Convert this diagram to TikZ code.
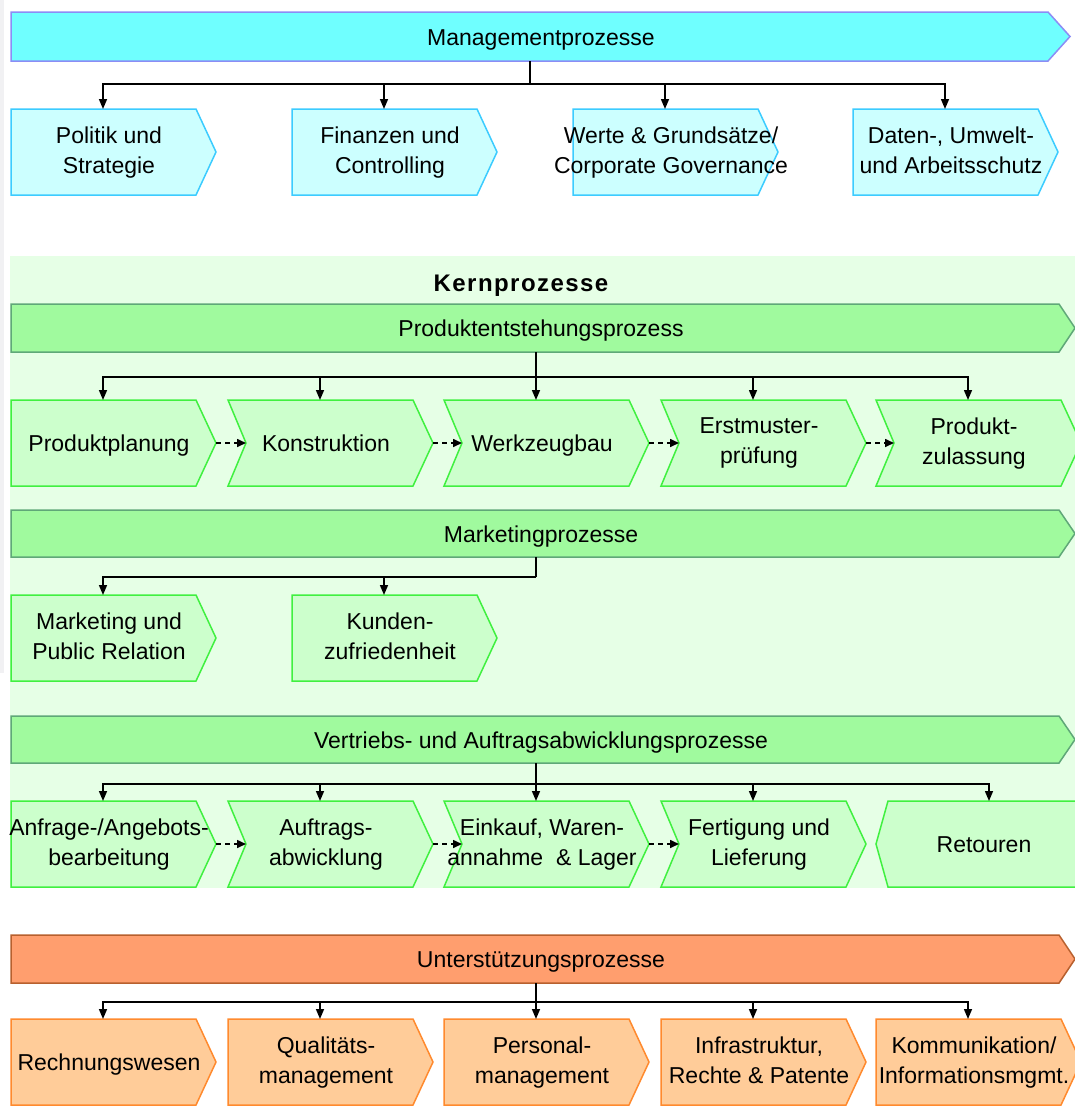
\documentclass[tikz,border=0pt]{standalone}
\usepackage{fontspec}
\setmainfont{Liberation Sans}
\usetikzlibrary{arrows.meta}
\definecolor{cyanbar}{HTML}{6FFFFF}
\definecolor{cyanbarline}{HTML}{8C8CF5}
\definecolor{cyanbox}{HTML}{CCFFFF}
\definecolor{cyanboxline}{HTML}{3CCCFF}
\definecolor{kernbg}{HTML}{E6FFE6}
\definecolor{greenbar}{HTML}{A0FA9E}
\definecolor{greenbarline}{HTML}{5FA878}
\definecolor{greenbox}{HTML}{CCFFCC}
\definecolor{greenboxline}{HTML}{40F040}
\definecolor{orangebar}{HTML}{FF9E6E}
\definecolor{orangebarline}{HTML}{B8602E}
\definecolor{orangebox}{HTML}{FFCC99}
\definecolor{orangeboxline}{HTML}{FF8A2E}
\definecolor{leftstrip}{HTML}{F1F1F3}
\tikzset{
  txt/.style={align=center, inner sep=0pt, font=\fontsize{23}{30}\selectfont, text=black,
    yshift=-2.5pt, execute at begin node=\strut, execute at end node=\strut},
  conn/.style={line width=1.5pt, black},
  arr/.style={conn, -{Triangle[length=10pt,width=8pt]}},
  darr/.style={line width=1.6pt, black, dash pattern=on 5pt off 4pt, -{Triangle[length=9pt,width=8pt]}},
  cbar/.style={fill=cyanbar, draw=cyanbarline, line width=1.5pt},
  cbox/.style={fill=cyanbox, draw=cyanboxline, line width=1.5pt},
  gbar/.style={fill=greenbar, draw=greenbarline, line width=1.5pt},
  gbox/.style={fill=greenbox, draw=greenboxline, line width=1.5pt},
  obar/.style={fill=orangebar, draw=orangebarline, line width=1.5pt},
  obox/.style={fill=orangebox, draw=orangeboxline, line width=1.5pt},
}
% flat-left process box: name, x0, ytop, style, text
\newcommand\flatbox[5]{%
  \path[#4] (#2,#3) -- ++(185,0) -- ++(20,43) -- ++(-20,43) -- ++(-185,0) -- cycle;
  \node[txt] (#1) at ({#2+98},{#3+43}) {#5};
  \coordinate (#1-top) at ({#2+92},#3);
  \coordinate (#1-tip) at ({#2+205},{#3+43});
}
% notched-left process box
\newcommand\notchbox[5]{%
  \path[#4] (#2,#3) -- ++(185,0) -- ++(20,43) -- ++(-20,43) -- ++(-185,0) -- ++(18,-43) -- cycle;
  \node[txt] (#1) at ({#2+98},{#3+43}) {#5};
  \coordinate (#1-top) at ({#2+92},#3);
  \coordinate (#1-tip) at ({#2+205},{#3+43});
  \coordinate (#1-in) at ({#2+18},{#3+43});
}
% long bar: name, ytop, ybottom, rect end, tip x, style, text
\newcommand\procbar[7]{%
  \path[#6] (11,#2) -- (#4,#2) -- (#5,{(#2+#3)/2}) -- (#4,#3) -- (11,#3) -- cycle;
  \node[txt] (#1) at (541,{(#2+#3)/2}) {#7};
}
\begin{document}
\begin{tikzpicture}[x=1pt,y=-1pt]
\useasboundingbox (0,0) rectangle (1075,1106);
\clip (0,0) rectangle (1075,1106);
\fill[white] (0,0) rectangle (1075,1106);
\fill[leftstrip] (0,0) rectangle (4,673);

% ---------------- Management ----------------
\procbar{mbar}{12}{61}{1048}{1070}{cbar}{Managementprozesse}
\coordinate (mstem) at (530,61);
\coordinate (mjoin) at (530,84);
\flatbox{m1}{11}{109}{cbox}{Politik und\\Strategie}
\flatbox{m2}{292}{109}{cbox}{Finanzen und\\Controlling}
\flatbox{m3}{573}{109}{cbox}{Werte \& Grundsätze/\\Corporate Governance}
\flatbox{m4}{853}{109}{cbox}{Daten-, Umwelt-\\und Arbeitsschutz}
\draw[conn] (mstem) -- (mjoin);
\foreach \b in {m1,m2,m3,m4} \draw[arr] (mjoin) -| (\b-top);

% ---------------- Kernprozesse ----------------
\fill[kernbg] (10,256) rectangle (1080,888);
\node[txt, font=\fontsize{24}{30}\selectfont\bfseries\addfontfeature{LetterSpace=6}] (kern) at (521,283) {Kernprozesse};

\procbar{pbar}{304}{352}{1059}{1075}{gbar}{Produktentstehungsprozess}
\coordinate (pstem) at (536,352);
\coordinate (pjoin) at (536,377);
\flatbox{p1}{11}{400}{gbox}{Produktplanung}
\notchbox{p2}{228}{400}{gbox}{Konstruktion}
\notchbox{p3}{444}{400}{gbox}{Werkzeugbau}
\notchbox{p4}{661}{400}{gbox}{Erstmuster-\\prüfung}
\notchbox{p5}{876}{400}{gbox}{Produkt-\\zulassung}
\draw[conn] (pstem) -- (pjoin);
\foreach \b in {p1,p2,p3,p4,p5} \draw[arr] (pjoin) -| (\b-top);
\draw[darr] (p1-tip) -- (p2-in);
\draw[darr] (p2-tip) -- (p3-in);
\draw[darr] (p3-tip) -- (p4-in);
\draw[darr] (p4-tip) -- (p5-in);

\procbar{kbar}{510}{557}{1059}{1075}{gbar}{Marketingprozesse}
\coordinate (kstem) at (536,557);
\coordinate (kjoin) at (536,577);
\flatbox{k1}{11}{595}{gbox}{Marketing und\\Public Relation}
\flatbox{k2}{292}{595}{gbox}{Kunden-\\zufriedenheit}
\draw[conn] (kstem) -- (kjoin);
\foreach \b in {k1,k2} \draw[arr] (kjoin) -| (\b-top);

\procbar{vbar}{716}{763}{1059}{1075}{gbar}{Vertriebs- und Auftragsabwicklungsprozesse}
\coordinate (vstem) at (536,763);
\coordinate (vjoin) at (536,784);
\flatbox{v1}{11}{801}{gbox}{Anfrage-/Angebots-\\bearbeitung}
\notchbox{v2}{228}{801}{gbox}{Auftrags-\\abwicklung}
\notchbox{v3}{444}{801}{gbox}{Einkauf, Waren-\\annahme\ \ \& Lager}
\notchbox{v4}{661}{801}{gbox}{Fertigung und\\Lieferung}
\path[gbox] (888,801) -- (1085,801) -- (1085,887) -- (888,887) -- (876,844) -- cycle;
\node[txt] (v5) at (984,844) {Retouren};
\coordinate (v5-top) at (989,801);
\draw[conn] (vstem) -- (vjoin);
\foreach \b in {v1,v2,v3,v4,v5} \draw[arr] (vjoin) -| (\b-top);
\draw[darr] (v1-tip) -- (v2-in);
\draw[darr] (v2-tip) -- (v3-in);
\draw[darr] (v3-tip) -- (v4-in);

% ---------------- Unterstuetzung ----------------
\procbar{ubar}{935}{983}{1059}{1075}{obar}{Unterstützungsprozesse}
\coordinate (ustem) at (536,983);
\coordinate (ujoin) at (536,1002);
\flatbox{u1}{11}{1019}{obox}{Rechnungswesen}
\flatbox{u2}{228}{1019}{obox}{Qualitäts-\\management}
\flatbox{u3}{444}{1019}{obox}{Personal-\\management}
\flatbox{u4}{661}{1019}{obox}{Infrastruktur,\\Rechte \& Patente}
\flatbox{u5}{876}{1019}{obox}{Kommunikation/\\Informationsmgmt.}
\draw[conn] (ustem) -- (ujoin);
\foreach \b in {u1,u2,u3,u4,u5} \draw[arr] (ujoin) -| (\b-top);
\end{tikzpicture}
\end{document}
